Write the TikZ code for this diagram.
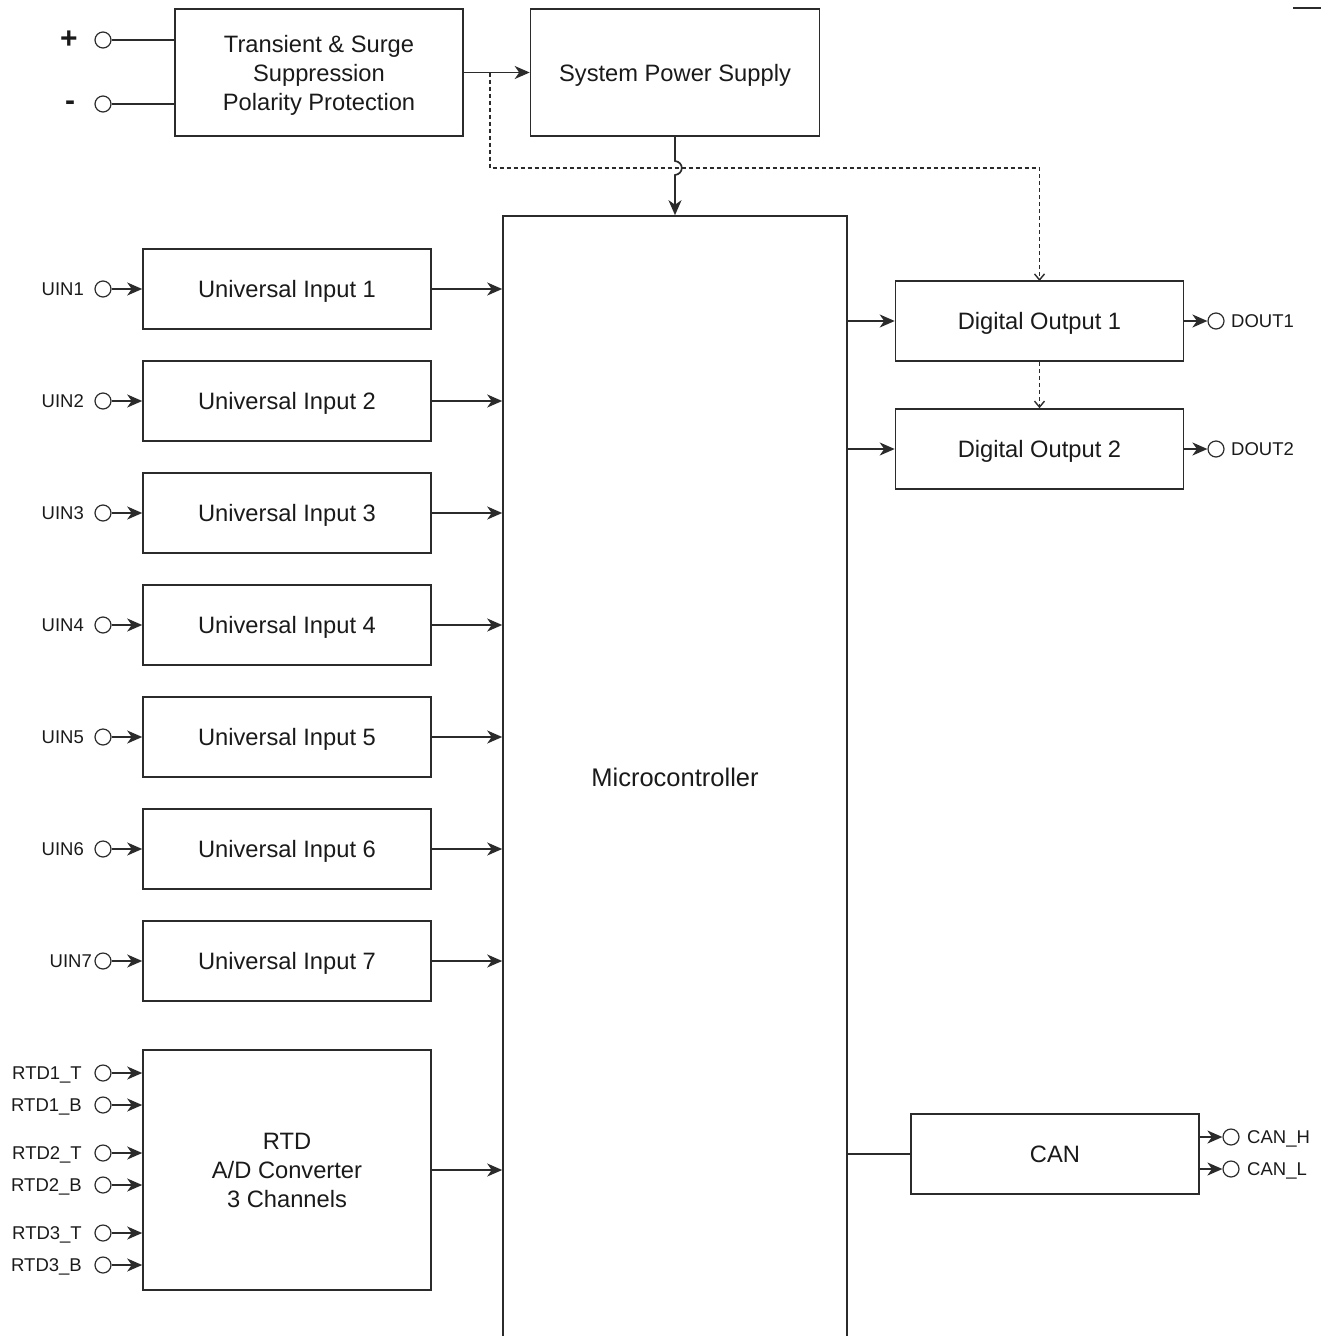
\documentclass[tikz,border=0pt]{standalone}
\usepackage{fontspec}
\setmainfont{Liberation Sans}
\usetikzlibrary{arrows.meta}
\definecolor{ln}{HTML}{2b2b2b}
\definecolor{tx}{HTML}{1a1a1a}
\begin{document}
\begin{tikzpicture}[x=1pt,y=-1pt,
 box/.style={draw=ln,line width=1.6pt,rectangle,minimum width=288pt,minimum height=80pt,inner sep=0pt,align=center,text=tx,font=\fontsize{23.7}{29}\selectfont,text depth=0pt},
 term/.style={circle,draw=ln,line width=1.2pt,minimum size=16pt,inner sep=0pt,fill=white},
 lab/.style={text=tx,font=\fontsize{18.5}{22}\selectfont,inner sep=0pt,text height=13.3pt,text depth=0pt},
 wire/.style={draw=ln,line width=1.7pt},
 arr/.style={wire,-{Stealth[length=15pt,width=13pt,inset=4.5pt]}},
 darr/.style={draw=ln,line width=1.4pt,dash pattern=on 4pt off 3pt,-{Straight Barb[length=6pt,width=10pt]}},
]
\useasboundingbox (0,0) rectangle (1320,1336);

% top blocks
\node[box,minimum width=288pt,minimum height=127pt] (tsp) at (319,72.5) {Transient \& Surge\\Suppression\\Polarity Protection};
\node[box,minimum width=289pt,minimum height=127pt] (ps) at (675,72.5) {System Power Supply};
\node[box,minimum width=344pt,minimum height=1122pt,font=\fontsize{25.5}{30}\selectfont] (mc) at (675,777) {Microcontroller};

% supply terminals
\node[term] (tplus) at (103,40) {};
\node[term] (tminus) at (103,104) {};
\node[text=tx,font=\bfseries\fontsize{30}{30}\selectfont,inner sep=0pt] (plus) at (69,40) {+};
\node[text=tx,font=\bfseries\fontsize{30}{30}\selectfont,inner sep=0pt] (minus) at (70,106) {-};
\draw[wire] (tplus) -- (tplus -| tsp.west);
\draw[wire] (tminus) -- (tminus -| tsp.west);

% power path
\coordinate (tap) at (490,72.5);
\coordinate (bend) at (1039.5,168);
\draw[arr] (tsp.east) -- (ps.west);
\draw[darr] (tap) |- (bend) -- (1039.5,281);
\draw[arr] (ps.south) -- (675,161) .. controls (684,162) and (684,174) .. (675,175) -- (mc.north);

% universal inputs
\foreach \i/\y in {1/289,2/401,3/513,4/625,5/737,6/849,7/961} {
  \node[box] (ui\i) at (287,\y) {Universal Input \i};
  \node[term] (u\i) at (103,\y) {};
  \draw[arr] (u\i) -- (ui\i.west);
  \draw[arr] (ui\i.east) -- (ui\i.east -| mc.west);
}
\foreach \i/\y in {1/289,2/401,3/513,4/625,5/737,6/849} {
  \node[lab,anchor=east] (ul\i) at (84,\y) {UIN\i};
}
\node[lab,anchor=east] (ul7) at (92,961) {UIN7};

% RTD
\node[box,minimum height=240pt] (rtd) at (287,1170) {RTD\\A/D Converter\\3 Channels};
\draw[arr] (rtd.east) -- (rtd.east -| mc.west);
\foreach \n/\t/\y in {1/RTD1\_T/1073,2/RTD1\_B/1105,3/RTD2\_T/1153,4/RTD2\_B/1185,5/RTD3\_T/1233,6/RTD3\_B/1265} {
  \node[term] (r\n) at (103,\y) {};
  \node[lab,anchor=east] (rl\n) at (82,\y) {\t};
  \draw[arr] (r\n) -- (r\n -| rtd.west);
}

% digital outputs
\node[box] (do1) at (1039.5,321) {Digital Output 1};
\node[box] (do2) at (1039.5,449) {Digital Output 2};
\draw[arr] (do1.west -| mc.east) -- (do1.west);
\draw[arr] (do2.west -| mc.east) -- (do2.west);
\draw[darr] (do1.south) -- (do2.north);
\node[term] (d1) at (1216,321) {};
\node[term] (d2) at (1216,449) {};
\draw[arr] (do1.east) -- (d1);
\draw[arr] (do2.east) -- (d2);
\node[lab,anchor=west] (dl1) at (1231,321) {DOUT1};
\node[lab,anchor=west] (dl2) at (1231,449) {DOUT2};

% CAN
\node[box] (can) at (1055,1154) {CAN};
\draw[wire] (can.west -| mc.east) -- (can.west);
\node[term] (ch) at (1231,1137) {};
\node[term] (cl) at (1231,1169) {};
\draw[arr] (ch -| can.east) -- (ch);
\draw[arr] (cl -| can.east) -- (cl);
\node[lab,anchor=west] (chl) at (1247,1137) {CAN\_H};
\node[lab,anchor=west] (cll) at (1247,1169) {CAN\_L};

% edge fragment top right
\draw[wire] (1293,8) -- (1322,8);
\end{tikzpicture}
\end{document}
